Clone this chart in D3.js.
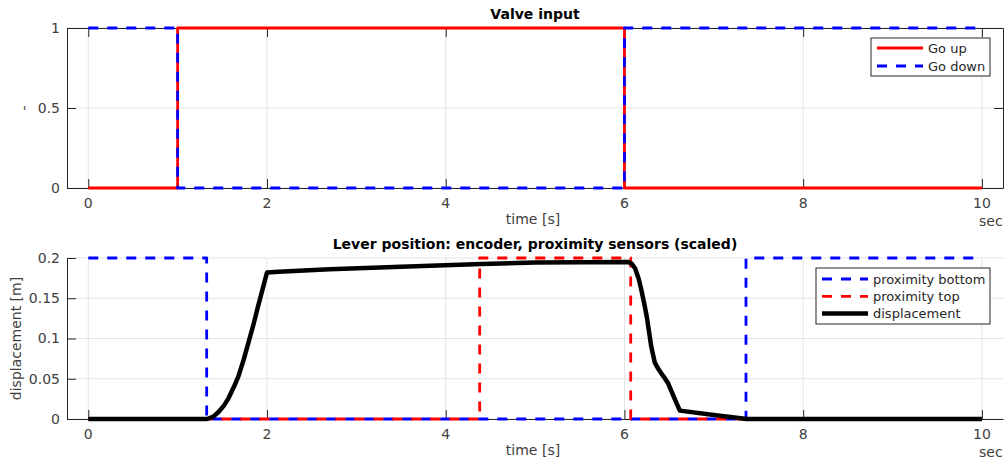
<!DOCTYPE html>
<html>
<head>
<meta charset="utf-8">
<script src="https://cdn.jsdelivr.net/npm/d3@7"></script>
<style>
    body { margin: 0; background: #fff; }
    svg { display: block; font-family: "DejaVu Sans", sans-serif; }
    .tick-label { font-size: 14px; fill: #404040; }
    .axis-label { font-size: 14px; fill: #404040; }
    .chart-title { font-size: 14px; font-weight: bold; fill: #000; }
    .legend-text { font-size: 13px; fill: #262626; }
</style>
</head>
<body>
<svg id="chart"></svg>
<script>
// ---- data ----
const timeTicks = [0, 2, 4, 6, 8, 10];
const valveTicks = [0, 0.5, 1];
const leverTicks = [0, 0.05, 0.1, 0.15, 0.2];

// valve input (step signals)
const goUpTime = [0, 1, 1, 6, 6, 10];
const goUpValue = [0, 0, 1, 1, 0, 0];
const goDownTime = [0, 1, 1, 6, 6, 10];
const goDownValue = [1, 1, 0, 0, 1, 1];

// proximity sensors (scaled to 0.2)
const proxBottomTime = [0, 1.325, 1.325, 7.36, 7.36, 10];
const proxBottomValue = [0.2, 0.2, 0, 0, 0.2, 0.2];
const proxTopTime = [0, 4.38, 4.38, 6.07, 6.07, 10];
const proxTopValue = [0, 0, 0.2, 0.2, 0, 0];

// encoder displacement
const dispTime = [0, 1.33, 1.40, 1.46, 1.52, 1.57, 1.63, 1.68, 1.74, 1.79, 1.85, 1.9, 1.95, 2.0,
    2.13, 2.7, 3.5, 4.4, 5.0, 6.04, 6.08, 6.12, 6.16, 6.19, 6.22, 6.25, 6.3, 6.34, 6.38, 6.41,
    6.45, 6.49, 6.55, 6.62, 7.0, 7.37, 10];
const dispValue = [0, 0, 0.003, 0.009, 0.017, 0.026, 0.04, 0.053, 0.074, 0.094, 0.118, 0.14, 0.161, 0.182,
    0.183, 0.186, 0.189, 0.1925, 0.1945, 0.195, 0.193, 0.187, 0.174, 0.16, 0.144, 0.127, 0.09, 0.07, 0.062, 0.057,
    0.051, 0.044, 0.028, 0.0104, 0.005, 0, 0];

const zip = (t, v) => t.map((d, i) => ({t: d, v: v[i]}));

const width = 1006, height = 464;
const axisColor = '#262626';
const gridColor = '#e3e3e3';

const svg = d3.select('#chart')
    .attr('width', width)
    .attr('height', height);

const xScale = d3.scaleLinear()
    .domain([-0.238, 10.236])
    .range([67, 1003]);

/**
 * Draws one panel: grid, axes, series, legend and labels
 */
function drawPanel(cfg) {
    const y = d3.scaleLinear().domain(cfg.yDomain).range([cfg.bottom, cfg.top]);
    const g = svg.append('g');
    const x0 = xScale.range()[0], x1 = xScale.range()[1];

    // grid lines
    g.selectAll('.vgrid').data(timeTicks).join('line')
        .attr('x1', d => xScale(d)).attr('x2', d => xScale(d))
        .attr('y1', cfg.top).attr('y2', cfg.bottom)
        .attr('stroke', gridColor);
    g.selectAll('.hgrid').data(cfg.yTicks).join('line')
        .attr('x1', x0).attr('x2', x1)
        .attr('y1', d => y(d)).attr('y2', d => y(d))
        .attr('stroke', gridColor);

    // axes (ticks point inward), drawn below the data
    const axesG = g.append('g');
    axesG.append('g').attr('transform', `translate(0,${cfg.bottom})`)
        .call(d3.axisBottom(xScale).tickValues(timeTicks).tickSize(-9).tickSizeOuter(0).tickFormat(''));
    axesG.append('g').attr('transform', `translate(${x0},0)`)
        .call(d3.axisLeft(y).tickValues(cfg.yTicks).tickSize(-9).tickSizeOuter(0).tickFormat(''));
    if (cfg.box) {
        axesG.append('g').attr('transform', `translate(0,${cfg.top})`)
            .call(d3.axisTop(xScale).tickValues(timeTicks).tickSize(-9).tickSizeOuter(0).tickFormat(''));
        axesG.append('g').attr('transform', `translate(${x1},0)`)
            .call(d3.axisRight(y).tickValues(cfg.yTicks).tickSize(-9).tickSizeOuter(0).tickFormat(''));
    }
    axesG.selectAll('.domain, .tick line').attr('stroke', axisColor);

    // series
    const line = d3.line().x(d => xScale(d.t)).y(d => y(d.v));
    cfg.series.forEach(s => {
        g.append('path')
            .datum(zip(s.t, s.v))
            .attr('d', line)
            .attr('fill', 'none')
            .attr('stroke', s.color)
            .attr('stroke-width', s.width)
            .attr('stroke-dasharray', s.dash || null)
            .attr('stroke-linejoin', 'round');
    });

    // tick labels
    g.selectAll('.xlab').data(timeTicks).join('text')
        .attr('class', 'tick-label')
        .attr('x', d => xScale(d))
        .attr('y', cfg.bottom + 20)
        .attr('text-anchor', 'middle')
        .text(d => d);
    g.selectAll('.ylab').data(cfg.yTicks).join('text')
        .attr('class', 'tick-label')
        .attr('x', 60)
        .attr('y', d => y(d))
        .attr('dy', '0.35em')
        .attr('text-anchor', 'end')
        .text(d => d);

    // axis titles
    g.append('text')
        .attr('class', 'axis-label')
        .attr('x', 533)
        .attr('y', cfg.bottom + 36)
        .attr('text-anchor', 'middle')
        .text('time [s]');
    g.append('text')
        .attr('class', 'axis-label')
        .attr('x', 979)
        .attr('y', cfg.bottom + 38)
        .text('sec');
    g.append('text')
        .attr('class', 'axis-label')
        .attr('transform', `translate(${cfg.yLabelX},${(cfg.top + cfg.bottom) / 2}) rotate(-90)`)
        .attr('text-anchor', 'middle')
        .text(cfg.yLabel);
    g.append('text')
        .attr('class', 'chart-title')
        .attr('x', 535)
        .attr('y', cfg.top - 9)
        .attr('text-anchor', 'middle')
        .text(cfg.title);

    // legend
    const lg = cfg.legend;
    g.append('rect')
        .attr('x', lg.x).attr('y', lg.y)
        .attr('width', lg.w).attr('height', lg.h)
        .attr('fill', '#fff')
        .attr('stroke', axisColor);
    cfg.series.forEach((s, i) => {
        const cy = lg.y + lg.first + i * lg.step;
        g.append('line')
            .attr('x1', lg.x + 6).attr('x2', lg.x + 52)
            .attr('y1', cy).attr('y2', cy)
            .attr('stroke', s.color)
            .attr('stroke-width', s.width)
            .attr('stroke-dasharray', s.dash || null);
        g.append('text')
            .attr('class', 'legend-text')
            .attr('x', lg.x + 57)
            .attr('y', cy)
            .attr('dy', '0.35em')
            .text(s.name);
    });
}

drawPanel({
    top: 28, bottom: 188,
    yDomain: [0, 1], yTicks: valveTicks,
    yLabel: '-', yLabelX: 29,
    title: 'Valve input',
    box: true,
    series: [
        {name: 'Go up', t: goUpTime, v: goUpValue, color: '#ff0000', width: 2.8},
        {name: 'Go down', t: goDownTime, v: goDownValue, color: '#0000ff', width: 2.8, dash: '10,9'}
    ],
    legend: {x: 871, y: 38, w: 119, h: 38, first: 10, step: 18}
});

drawPanel({
    top: 258, bottom: 419,
    yDomain: [0, 0.2], yTicks: leverTicks,
    yLabel: 'displacement [m]', yLabelX: 21,
    title: 'Lever position: encoder, proximity sensors (scaled)',
    box: false,
    series: [
        {name: 'proximity bottom', t: proxBottomTime, v: proxBottomValue, color: '#0000ff', width: 2.8, dash: '10,9'},
        {name: 'proximity top', t: proxTopTime, v: proxTopValue, color: '#ff0000', width: 2.8, dash: '10,9'},
        {name: 'displacement', t: dispTime, v: dispValue, color: '#000000', width: 4.5}
    ],
    legend: {x: 816, y: 268, w: 174, h: 56, first: 11, step: 17.3}
});
</script>
</body>
</html>
